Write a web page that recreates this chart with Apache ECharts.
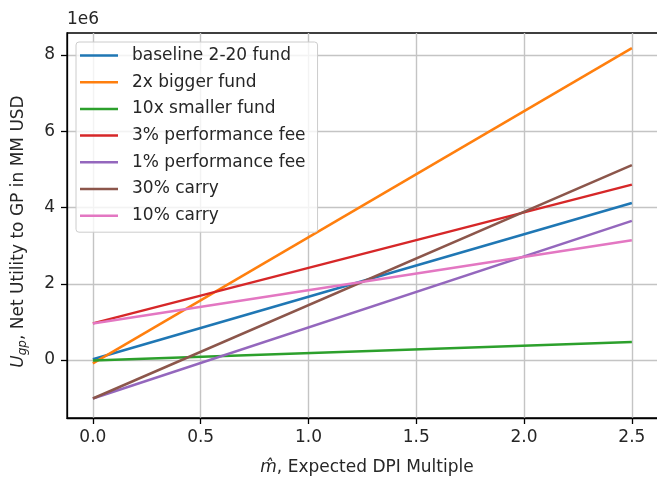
<!DOCTYPE html>
<html><head><meta charset="utf-8">
<script src="https://cdn.jsdelivr.net/npm/echarts@6/dist/echarts.min.js"></script>
<style>html,body{margin:0;padding:0;background:#fff;overflow:hidden}#c{width:657px;height:477px}</style>
</head><body><div id="c"></div>
<script>
const xValues = [0, 2.5];
const seriesNames = ["baseline 2-20 fund","2x bigger fund","10x smaller fund","3% performance fee","1% performance fee","30% carry","10% carry"];
const baseline = [0.02e6, 4.12e6];
const bigger = [-0.09e6, 8.18e6];
const smaller = [-0.01e6, 0.47e6];
const perf3 = [0.96e6, 4.6e6];
const perf1 = [-1.01e6, 3.65e6];
const carry30 = [-1.01e6, 5.11e6];
const carry10 = [0.96e6, 3.14e6];
const xTicks = [0, 0.5, 1.0, 1.5, 2.0, 2.5];
const yTicks = [0, 2e6, 4e6, 6e6, 8e6];
const colors = ['#1f77b4','#ff7f0e','#2ca02c','#d62728','#9467bd','#8c564b','#e377c2'];
const allData = [baseline, bigger, smaller, perf3, perf1, carry30, carry10];

const chart = echarts.init(document.getElementById('c'), null, {renderer:'canvas'});
const font = 'DejaVu Sans';
const txt = '#262626';
chart.setOption({
  animation: false,
  color: colors,
  textStyle: {fontFamily: font},
  grid: {left: 67, top: 33, width: 600, height: 385, outerBoundsMode: 'none', containLabel: false,
    show: true, borderColor: '#000', borderWidth: 1.3},
  graphic: [{type:'text', left: 67, top: 11, style:{text:'1e6', font:'17px "DejaVu Sans"', fill: txt}}],
  legend: {
    orient: 'vertical', left: 76, top: 42,
    data: seriesNames,
    itemWidth: 38, itemHeight: 17, itemGap: 9.7,
    padding: [5, 12, 8, 4],
    backgroundColor: 'rgba(255,255,255,0.8)', borderColor: '#cccccc', borderWidth: 1, borderRadius: 3,
    textStyle: {fontSize: 17, color: txt, fontFamily: font, padding:[0,0,0,9]},
    icon: 'path://M0,7.25 L38,7.25 L38,9.75 L0,9.75 Z'
  },
  xAxis: {
    type: 'value', min: -0.12, max: 2.663,
    name: '{i|m\u0302}, Expected DPI Multiple',
    nameLocation: 'middle', nameGap: 41.5,
    nameTextStyle: {fontSize: 17, color: txt, fontFamily: font, padding: [0, 0, 0, 0],
      rich: {i: {fontSize: 17, fontStyle: 'italic', color: txt, fontFamily: font}}},
    axisLine: {show: true, onZero: false, lineStyle: {color: '#000', width: 1.3}},
    axisTick: {show: true, length: 6, customValues: xTicks, lineStyle: {color: '#000', width: 1.3}},
    axisLabel: {customValues: xTicks, fontSize: 17, color: txt, margin: 11.5,
      formatter: v => v.toFixed(1)},
    splitLine: {show: true, lineStyle: {color: '#c4c4c4', width: 1.4}}
  },
  yAxis: {
    type: 'value', min: -1.521e6, max: 8.577e6,
    name: '{i|U}{s|gp}, Net Utility to GP in MM USD',
    nameLocation: 'middle', nameGap: 38.5, nameRotate: 90,
    nameTextStyle: {fontSize: 17, color: txt, fontFamily: font, padding: [0, 12, 0, 0],
      rich: {i: {fontSize: 17, fontStyle: 'italic', color: txt, fontFamily: font},
             s: {fontSize: 12, fontStyle: 'italic', color: txt, fontFamily: font, verticalAlign:'bottom', padding:[8,0,0,0]}}},
    axisLine: {show: true, onZero: false, lineStyle: {color: '#000', width: 1.3}},
    axisTick: {show: true, length: 6, customValues: yTicks, lineStyle: {color: '#000', width: 1.3}},
    axisLabel: {customValues: yTicks, fontSize: 17, color: txt, margin: 12,
      formatter: v => String(Math.round(v / 1e6))},
    splitLine: {show: true, lineStyle: {color: '#c4c4c4', width: 1.4}}
  },
  series: seriesNames.map((n, i) => ({
    name: n, type: 'line', showSymbol: false, symbol: 'none',
    lineStyle: {width: 2.5, color: colors[i]},
    itemStyle: {color: colors[i]},
    data: xValues.map((x, j) => [x, allData[i][j]])
  }))
});
</script></body></html>
